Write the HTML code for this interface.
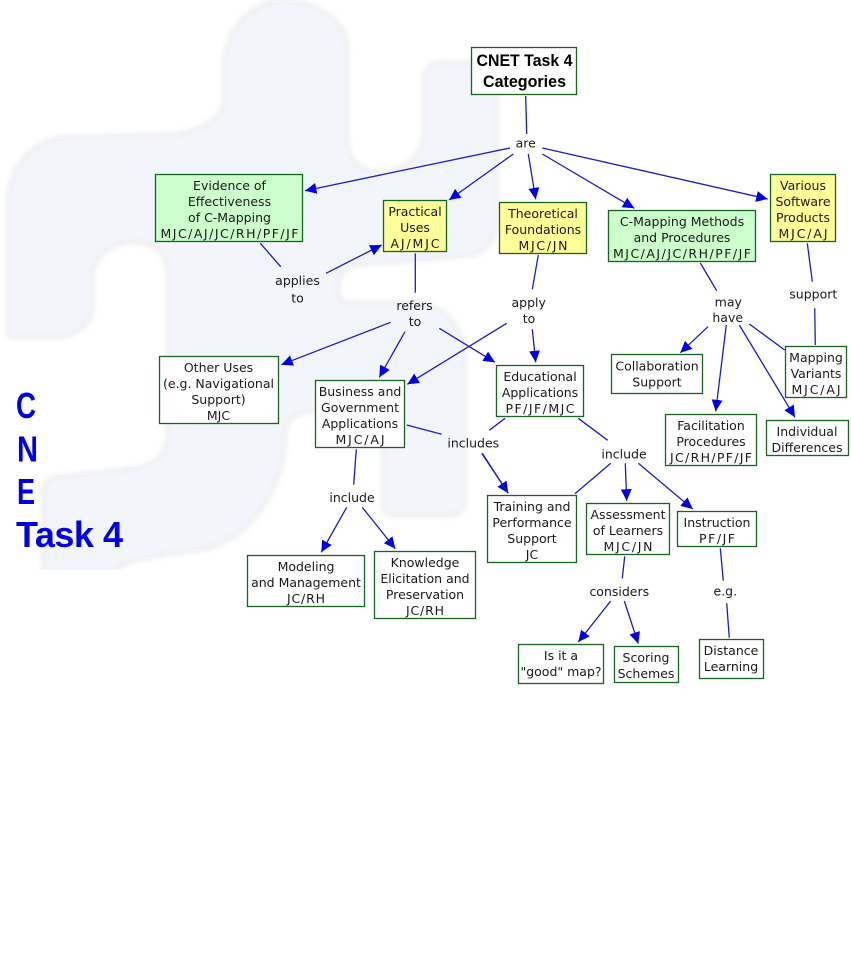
<!DOCTYPE html>
<html><head><meta charset="utf-8"><title>CNET Task 4</title>
<style>
html,body{margin:0;padding:0;background:#fff;width:851px;height:956px;overflow:hidden}
svg{display:block}
text{font-family:"DejaVu Sans","Liberation Sans",sans-serif;font-size:12.5px;fill:#1a1a1a;text-anchor:middle}
.l{stroke:#1c1cc0;stroke-width:1.3;fill:none}
.r{stroke:#17661f;stroke-width:1.3}
.t{font-family:"Liberation Sans",sans-serif;font-weight:bold;font-size:36px;fill:#0000e6;text-anchor:start}
.h{font-family:"Liberation Sans",sans-serif;font-weight:bold;font-size:16.5px;fill:#000}
</style></head><body>
<svg width="851" height="956" viewBox="0 0 851 956" xmlns="http://www.w3.org/2000/svg">
<defs>
<filter id="bl" x="-5%" y="-5%" width="110%" height="110%" color-interpolation-filters="sRGB"><feGaussianBlur stdDeviation="2.4"/></filter>
<clipPath id="cp"><rect x="0" y="0" width="851" height="570"/></clipPath>
<marker id="a" markerUnits="userSpaceOnUse" markerWidth="13" markerHeight="13" refX="11.5" refY="6" orient="auto"><path d="M0,0.5L11.5,6L0,11.5Z" fill="#0000e6"/></marker>
</defs>
<g clip-path="url(#cp)"><path filter="url(#bl)" fill="#f2f5fb" stroke="#eff0f3" stroke-width="5" d="M280,1C245,5 224,35 224,67V100C224,118 200,133 167,135L67,137C35,139 9,165 8,200V333C8,336 10,337 13,337H57C75,337 92,325 92,307V277C92,258 110,242 133,242C155,242 168,255 168,273V430C168,455 155,467 130,469L57,477C48,478 43,484 43,493V600H115V570C125,560 150,556 200,550C250,540 285,490 285,432C287,420 295,413 307,412L370,411C378,411 383,417 383,425V505C383,512 388,515 395,515H450C460,515 465,508 465,500V360C465,330 445,303 415,303H350C342,303 338,297 338,288C338,275 345,266 358,265L470,255C488,252 497,235 497,215V80C497,70 490,63 480,63H440C430,63 424,70 424,80V130C424,155 405,172 380,172C360,172 347,158 347,140V50C347,22 320,1 280,1Z"/></g>

<text class="t" x="16" y="418" textLength="20" lengthAdjust="spacingAndGlyphs">C</text>
<text class="t" x="17" y="461.5" textLength="21" lengthAdjust="spacingAndGlyphs">N</text>
<text class="t" x="17" y="504" textLength="18" lengthAdjust="spacingAndGlyphs">E</text>
<text class="t" x="16" y="547" textLength="107">Task 4</text>

<g class="l">
<line x1="525.7" y1="96" x2="526.7" y2="134"/>
<line x1="510" y1="148" x2="305" y2="190.7" marker-end="url(#a)"/>
<line x1="513.3" y1="154" x2="449" y2="200" marker-end="url(#a)"/>
<line x1="528.3" y1="154" x2="535.7" y2="199.3" marker-end="url(#a)"/>
<line x1="542.3" y1="154" x2="634.3" y2="208.3" marker-end="url(#a)"/>
<line x1="542.3" y1="148" x2="767.7" y2="199" marker-end="url(#a)"/>
<line x1="260.3" y1="243.3" x2="280.7" y2="266.7"/>
<line x1="326" y1="273.3" x2="381.7" y2="245" marker-end="url(#a)"/>
<line x1="415.3" y1="253.3" x2="415.3" y2="292.7"/>
<line x1="390.7" y1="322.3" x2="281.3" y2="364.7" marker-end="url(#a)"/>
<line x1="405" y1="331.7" x2="379.3" y2="377.3" marker-end="url(#a)"/>
<line x1="439.3" y1="328.3" x2="495" y2="362.3" marker-end="url(#a)"/>
<line x1="538.3" y1="255" x2="532.3" y2="289.3"/>
<line x1="506.7" y1="323.3" x2="407.3" y2="384.3" marker-end="url(#a)"/>
<line x1="532.3" y1="329.3" x2="535.7" y2="362.3" marker-end="url(#a)"/>
<line x1="700.3" y1="263" x2="716.7" y2="290.7"/>
<line x1="708" y1="326.7" x2="680.3" y2="352.7" marker-end="url(#a)"/>
<line x1="726.3" y1="325" x2="715.7" y2="411.3" marker-end="url(#a)"/>
<line x1="739.3" y1="325" x2="795" y2="417.3" marker-end="url(#a)"/>
<line x1="749.3" y1="324" x2="784.7" y2="350"/>
<line x1="807.3" y1="243.3" x2="812.3" y2="281.7"/>
<line x1="814.7" y1="308.3" x2="815.3" y2="345"/>
<line x1="406.7" y1="425" x2="441.7" y2="434.3"/>
<line x1="505" y1="418.3" x2="489.3" y2="430.3"/>
<line x1="481.7" y1="453.3" x2="508.3" y2="493.3" marker-end="url(#a)"/>
<line x1="482.3" y1="453.3" x2="508.3" y2="493.3"/>
<line x1="578.3" y1="418.3" x2="607.7" y2="440.3"/>
<line x1="610.7" y1="463.3" x2="575" y2="493.7"/>
<line x1="625.3" y1="463.3" x2="626.7" y2="500.7" marker-end="url(#a)"/>
<line x1="638.3" y1="463.3" x2="692.7" y2="509" marker-end="url(#a)"/>
<line x1="624.7" y1="556.3" x2="622.3" y2="578.3"/>
<line x1="610.7" y1="601" x2="578.3" y2="642" marker-end="url(#a)"/>
<line x1="624.3" y1="601" x2="638.3" y2="643.7" marker-end="url(#a)"/>
<line x1="720.3" y1="548.3" x2="723.3" y2="580.7"/>
<line x1="726.7" y1="603.3" x2="729.3" y2="637.7"/>
<line x1="356.3" y1="449.3" x2="353.7" y2="484.7"/>
<line x1="346.7" y1="507.3" x2="321.3" y2="552.3" marker-end="url(#a)"/>
<line x1="362.3" y1="507.3" x2="395.3" y2="548.7" marker-end="url(#a)"/>
</g>

<g class="r">
<rect x="471.5" y="47.5" width="105" height="47" fill="#fff"/>
<rect x="155.5" y="174.5" width="147" height="67" fill="#ccffcc"/>
<rect x="383.5" y="200.5" width="63" height="51" fill="#ffff99"/>
<rect x="499.5" y="202.5" width="87" height="51" fill="#ffff99"/>
<rect x="608.5" y="210.5" width="147" height="51" fill="#ccffcc"/>
<rect x="770.5" y="174.5" width="65" height="67" fill="#ffff99"/>
<rect x="159.5" y="356.5" width="119" height="67" fill="#fff"/>
<rect x="315.5" y="380.5" width="89" height="67" fill="#fff"/>
<rect x="247.5" y="555.5" width="117" height="51" fill="#fff"/>
<rect x="374.5" y="551.5" width="101" height="67" fill="#fff"/>
<rect x="496.5" y="365.5" width="87" height="51" fill="#fff"/>
<rect x="611.5" y="354.5" width="91" height="39" fill="#fff"/>
<rect x="785.5" y="346.5" width="61" height="51" fill="#fff"/>
<rect x="665.5" y="414.5" width="91" height="51" fill="#fff"/>
<rect x="766.5" y="420.5" width="82" height="35" fill="#fff"/>
<rect x="487.5" y="495.5" width="89" height="67" fill="#fff"/>
<rect x="586.5" y="503.5" width="83" height="51" fill="#fff"/>
<rect x="677.5" y="511.5" width="79" height="35" fill="#fff"/>
<rect x="518.5" y="644.5" width="85" height="39" fill="#fff"/>
<rect x="614.5" y="646.5" width="64" height="36" fill="#fff"/>
<rect x="699.5" y="639.5" width="64" height="39" fill="#fff"/>
</g>

<text class="h" x="524.5" y="66" textLength="96" lengthAdjust="spacingAndGlyphs">CNET Task 4</text>
<text class="h" x="524.5" y="87" textLength="83" lengthAdjust="spacingAndGlyphs">Categories</text>

<text x="229.5" y="190">Evidence of</text>
<text x="229.5" y="206">Effectiveness</text>
<text x="229.5" y="222">of C-Mapping</text>
<text x="229.5" y="238" textLength="138">MJC/AJ/JC/RH/PF/JF</text>

<text x="415" y="216">Practical</text>
<text x="415" y="232">Uses</text>
<text x="415" y="248" textLength="49">AJ/MJC</text>

<text x="543" y="218">Theoretical</text>
<text x="543" y="234">Foundations</text>
<text x="543" y="250" textLength="49">MJC/JN</text>

<text x="682" y="226">C-Mapping Methods</text>
<text x="682" y="242">and Procedures</text>
<text x="682" y="258" textLength="138">MJC/AJ/JC/RH/PF/JF</text>

<text x="803" y="190">Various</text>
<text x="803" y="206">Software</text>
<text x="803" y="222">Products</text>
<text x="803" y="238" textLength="49">MJC/AJ</text>

<text x="218.5" y="372">Other Uses</text>
<text x="218.5" y="388">(e.g. Navigational</text>
<text x="218.5" y="404">Support)</text>
<text x="218.5" y="420">MJC</text>

<text x="360" y="396">Business and</text>
<text x="360" y="412">Government</text>
<text x="360" y="428">Applications</text>
<text x="360" y="444" textLength="49">MJC/AJ</text>

<text x="306" y="571">Modeling</text>
<text x="306" y="587">and Management</text>
<text x="306" y="603" textLength="38">JC/RH</text>

<text x="425" y="567">Knowledge</text>
<text x="425" y="583">Elicitation and</text>
<text x="425" y="599">Preservation</text>
<text x="425" y="615" textLength="38">JC/RH</text>

<text x="540" y="381">Educational</text>
<text x="540" y="397">Applications</text>
<text x="540" y="413" textLength="69">PF/JF/MJC</text>

<text x="657" y="370.5">Collaboration</text>
<text x="657" y="386.5">Support</text>

<text x="816" y="362">Mapping</text>
<text x="816" y="378">Variants</text>
<text x="816" y="394" textLength="49">MJC/AJ</text>

<text x="711" y="430">Facilitation</text>
<text x="711" y="446">Procedures</text>
<text x="711" y="462" textLength="82">JC/RH/PF/JF</text>

<text x="807" y="436">Individual</text>
<text x="807" y="452">Differences</text>

<text x="532" y="511">Training and</text>
<text x="532" y="527">Performance</text>
<text x="532" y="543">Support</text>
<text x="532" y="559">JC</text>

<text x="628" y="519">Assessment</text>
<text x="628" y="535">of Learners</text>
<text x="628" y="551" textLength="49">MJC/JN</text>

<text x="717" y="527">Instruction</text>
<text x="717" y="543" textLength="36">PF/JF</text>

<text x="561" y="660">Is it a</text>
<text x="561" y="676">"good" map?</text>

<text x="646" y="662">Scoring</text>
<text x="646" y="678">Schemes</text>

<text x="731" y="655">Distance</text>
<text x="731" y="671">Learning</text>

<text x="525.7" y="147.7">are</text>
<text x="297.5" y="285">applies</text>
<text x="297.5" y="302.5">to</text>
<text x="414.5" y="310">refers</text>
<text x="415" y="326">to</text>
<text x="528.7" y="307">apply</text>
<text x="529" y="323">to</text>
<text x="728.3" y="306.7">may</text>
<text x="727.7" y="322">have</text>
<text x="813.3" y="298.7">support</text>
<text x="473.3" y="447.7">includes</text>
<text x="352" y="502">include</text>
<text x="624" y="458.3">include</text>
<text x="619.3" y="596">considers</text>
<text x="725.3" y="595.3">e.g.</text>
</svg>
</body></html>
